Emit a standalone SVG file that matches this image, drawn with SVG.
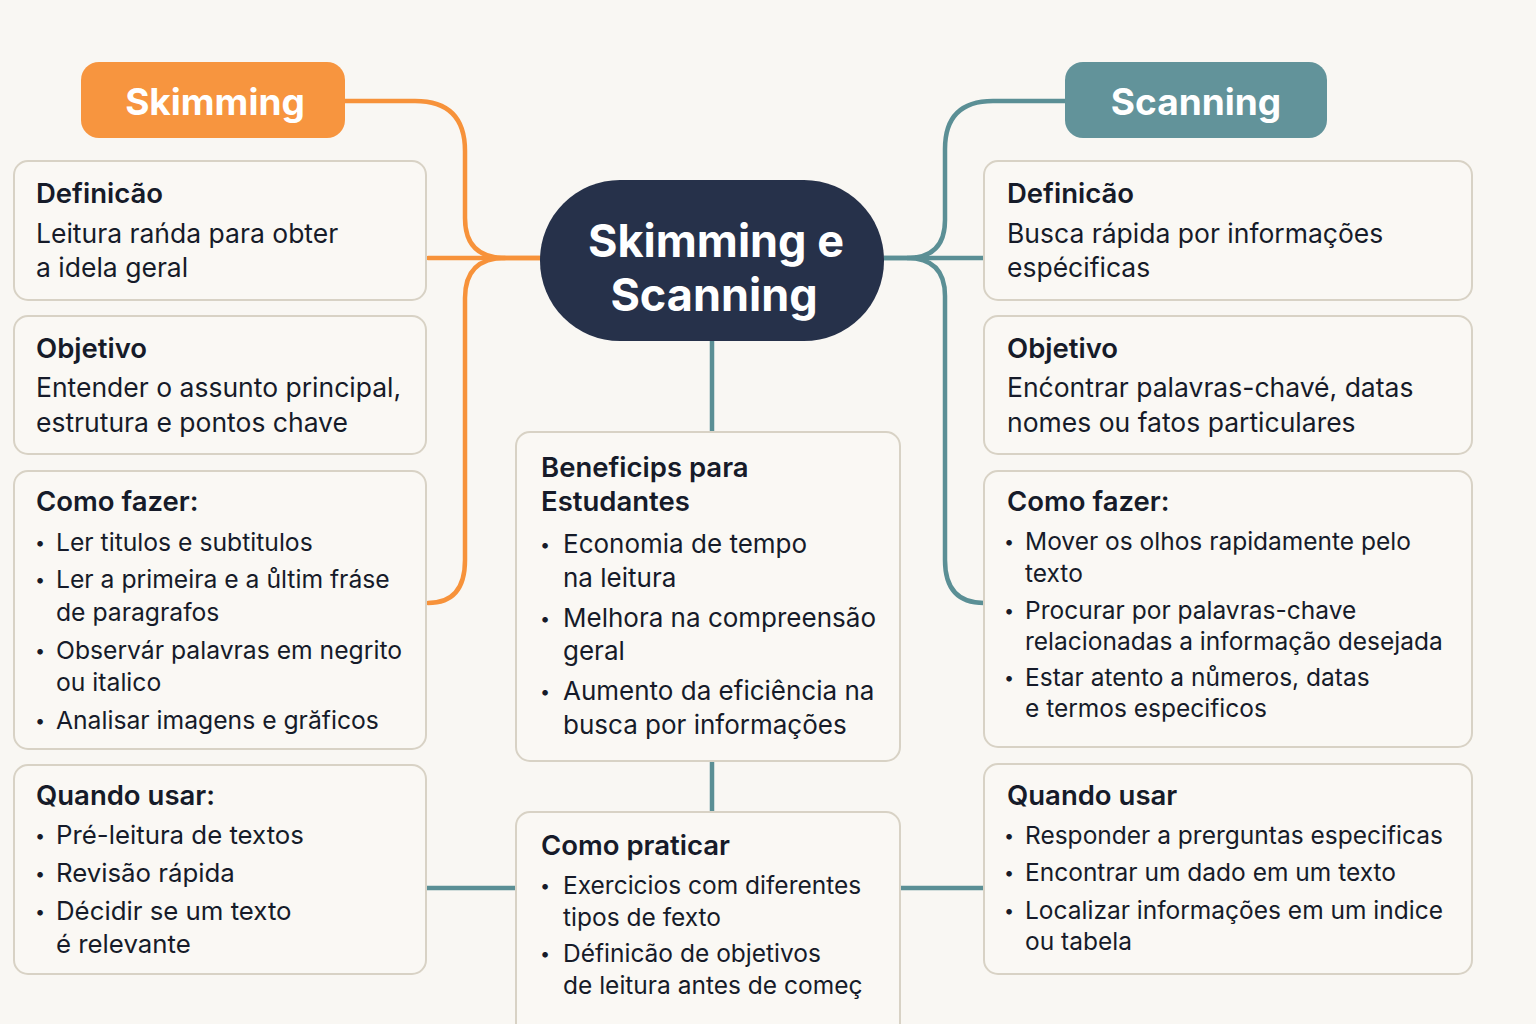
<svg xmlns="http://www.w3.org/2000/svg" width="1536" height="1024" viewBox="0 0 1536 1024">
<style>
.bg{fill:#f9f7f3}
.box{fill:#faf8f4;stroke:#d8d2c5;stroke-width:2}
.h{font-family:Inter,"Liberation Sans",sans-serif;font-weight:600;font-size:27.5px;fill:#161b29}
.t{font-family:Inter,"Liberation Sans",sans-serif;font-size:24.5px;fill:#161b29}
.tl25{font-size:24.7px}
.tq{font-size:25.8px}
.tb{font-size:26.5px}
.tc{font-size:26px}
.b{font-family:Inter,"Liberation Sans",sans-serif;font-size:18px;fill:#161b29}
.pill{font-family:Inter,"Liberation Sans",sans-serif;font-weight:700;font-size:37px;fill:#ffffff}
.c{font-family:Inter,"Liberation Sans",sans-serif;font-weight:700;font-size:45px;fill:#ffffff}
.or{fill:none;stroke:#f7923a;stroke-width:4.5;stroke-linecap:round}
.tl{fill:none;stroke:#5b8f95;stroke-width:4.5}
</style>
<rect class="bg" x="0" y="0" width="1536" height="1024"/>
<g id="connectors">
<path class="or" d="M345,101 H415 Q465,101 465,151 V218 Q465,258 505,258 H540"/>
<path class="or" d="M428,258 H540"/>
<path class="or" d="M505,258 Q465,258 465,298 V560 Q465,603 428,603"/>
<path class="tl" d="M1065,101 H993 Q945,101 945,149 V220 Q945,258 907,258 H884"/>
<path class="tl" d="M884,258 H984"/>
<path class="tl" d="M907,258 Q945,258 945,296 V560 Q945,603 984,603"/>
<path class="tl" d="M712,341 V432"/>
<path class="tl" d="M712,761 V812"/>
<path class="tl" d="M426,888 H516"/>
<path class="tl" d="M900,888 H984"/>
</g>
<g id="skimming">
<rect x="81" y="62" width="264" height="76" rx="18" fill="#f7953f"/>
<text class="pill" x="215" y="115" text-anchor="middle">Skimming</text>
</g>
<g id="scanning">
<rect x="1065" y="62" width="262" height="76" rx="18" fill="#62939a"/>
<text class="pill" x="1196" y="115" text-anchor="middle">Scanning</text>
</g>
<g id="center">
<rect x="540" y="180" width="344" height="161" rx="80" fill="#26314a"/>
<text class="c" x="716" y="257" text-anchor="middle">Skimming e</text>
<text class="c" x="714" y="311" text-anchor="middle">Scanning</text>
</g>
<g id="sk-def">
<rect class="box" x="14" y="161" width="412" height="139" rx="14"/>
<text class="h" x="36" y="203">Definicão</text>
<text class="t tb" x="36" y="243">Leitura rańda para obter</text>
<text class="t tb" x="36" y="277">a idela geral</text>
</g>
<g id="sk-obj">
<rect class="box" x="14" y="316" width="412" height="138" rx="14"/>
<text class="h" x="36" y="358">Objetivo</text>
<text class="t tb" x="36" y="397">Entender o assunto principal,</text>
<text class="t tb" x="36" y="432">estrutura e pontos chave</text>
</g>
<g id="sk-como">
<rect class="box" x="14" y="471" width="412" height="278" rx="14"/>
<text class="h" x="36" y="511">Como fazer:</text>
<text class="b" x="35" y="549">•</text><text class="t tl25" x="56" y="551">Ler titulos e subtitulos</text>
<text class="b" x="35" y="586">•</text><text class="t tl25" x="56" y="588">Ler a primeira e a ůltim fráse</text>
<text class="t tl25" x="56" y="621">de paragrafos</text>
<text class="b" x="35" y="657">•</text><text class="t tl25" x="56" y="659">Observár palavras em negrito</text>
<text class="t tl25" x="56" y="691">ou italico</text>
<text class="b" x="35" y="727">•</text><text class="t tl25" x="56" y="729">Analisar imagens e grăficos</text>
</g>
<g id="sk-quando">
<rect class="box" x="14" y="765" width="412" height="209" rx="14"/>
<text class="h" x="36" y="805">Quando usar:</text>
<text class="b" x="35" y="842">•</text><text class="t tq" x="56" y="844">Pré-leitura de textos</text>
<text class="b" x="35" y="880">•</text><text class="t tq" x="56" y="882">Revisão rápida</text>
<text class="b" x="35" y="918">•</text><text class="t tq" x="56" y="920">Décidir se um texto</text>
<text class="t tq" x="56" y="953">é relevante</text>
</g>
<g id="beneficios">
<rect class="box" x="516" y="432" width="384" height="329" rx="14"/>
<text class="h" x="541" y="477">Beneficips para</text>
<text class="h" x="541" y="511">Estudantes</text>
<text class="b" x="540" y="551">•</text><text class="t tc" x="563" y="553">Economia de tempo</text>
<text class="t tc" x="563" y="587">na leitura</text>
<text class="b" x="540" y="625">•</text><text class="t tc" x="563" y="627">Melhora na compreensão</text>
<text class="t tc" x="563" y="660">geral</text>
<text class="b" x="540" y="698">•</text><text class="t tc" x="563" y="700">Aumento da eficiência na</text>
<text class="t tc" x="563" y="734">busca por informações</text>
</g>
<g id="praticar">
<rect class="box" x="516" y="812" width="384" height="240" rx="14"/>
<text class="h" x="541" y="855">Como praticar</text>
<text class="b" x="540" y="892">•</text><text class="t" x="563" y="894">Exercicios com diferentes</text>
<text class="t" x="563" y="926">tipos de fexto</text>
<text class="b" x="540" y="960">•</text><text class="t" x="563" y="962">Définicão de objetivos</text>
<text class="t" x="563" y="994">de leitura antes de começ</text>
</g>
<g id="sc-def">
<rect class="box" x="984" y="161" width="488" height="139" rx="14"/>
<text class="h" x="1007" y="203">Definicão</text>
<text class="t tb" x="1007" y="243">Busca rápida por informações</text>
<text class="t tb" x="1007" y="277">espécificas</text>
</g>
<g id="sc-obj">
<rect class="box" x="984" y="316" width="488" height="138" rx="14"/>
<text class="h" x="1007" y="358">Objetivo</text>
<text class="t tb" x="1007" y="397">Enćontrar palavras-chavé, datas</text>
<text class="t tb" x="1007" y="432">nomes ou fatos particulares</text>
</g>
<g id="sc-como">
<rect class="box" x="984" y="471" width="488" height="276" rx="14"/>
<text class="h" x="1007" y="511">Como fazer:</text>
<text class="b" x="1004" y="548">•</text><text class="t" x="1025" y="550">Mover os olhos rapidamente pelo</text>
<text class="t" x="1025" y="582">texto</text>
<text class="b" x="1004" y="617">•</text><text class="t" x="1025" y="619">Procurar por palavras-chave</text>
<text class="t" x="1025" y="650">relacionadas a informação desejada</text>
<text class="b" x="1004" y="684">•</text><text class="t" x="1025" y="686">Estar atento a nůmeros, datas</text>
<text class="t" x="1025" y="717">e termos especificos</text>
</g>
<g id="sc-quando">
<rect class="box" x="984" y="764" width="488" height="210" rx="14"/>
<text class="h" x="1007" y="805">Quando usar</text>
<text class="b" x="1004" y="842">•</text><text class="t" x="1025" y="844">Responder a prerguntas especificas</text>
<text class="b" x="1004" y="879">•</text><text class="t" x="1025" y="881">Encontrar um dado em um texto</text>
<text class="b" x="1004" y="917">•</text><text class="t" x="1025" y="919">Localizar informações em um indice</text>
<text class="t" x="1025" y="950">ou tabela</text>
</g>
</svg>
